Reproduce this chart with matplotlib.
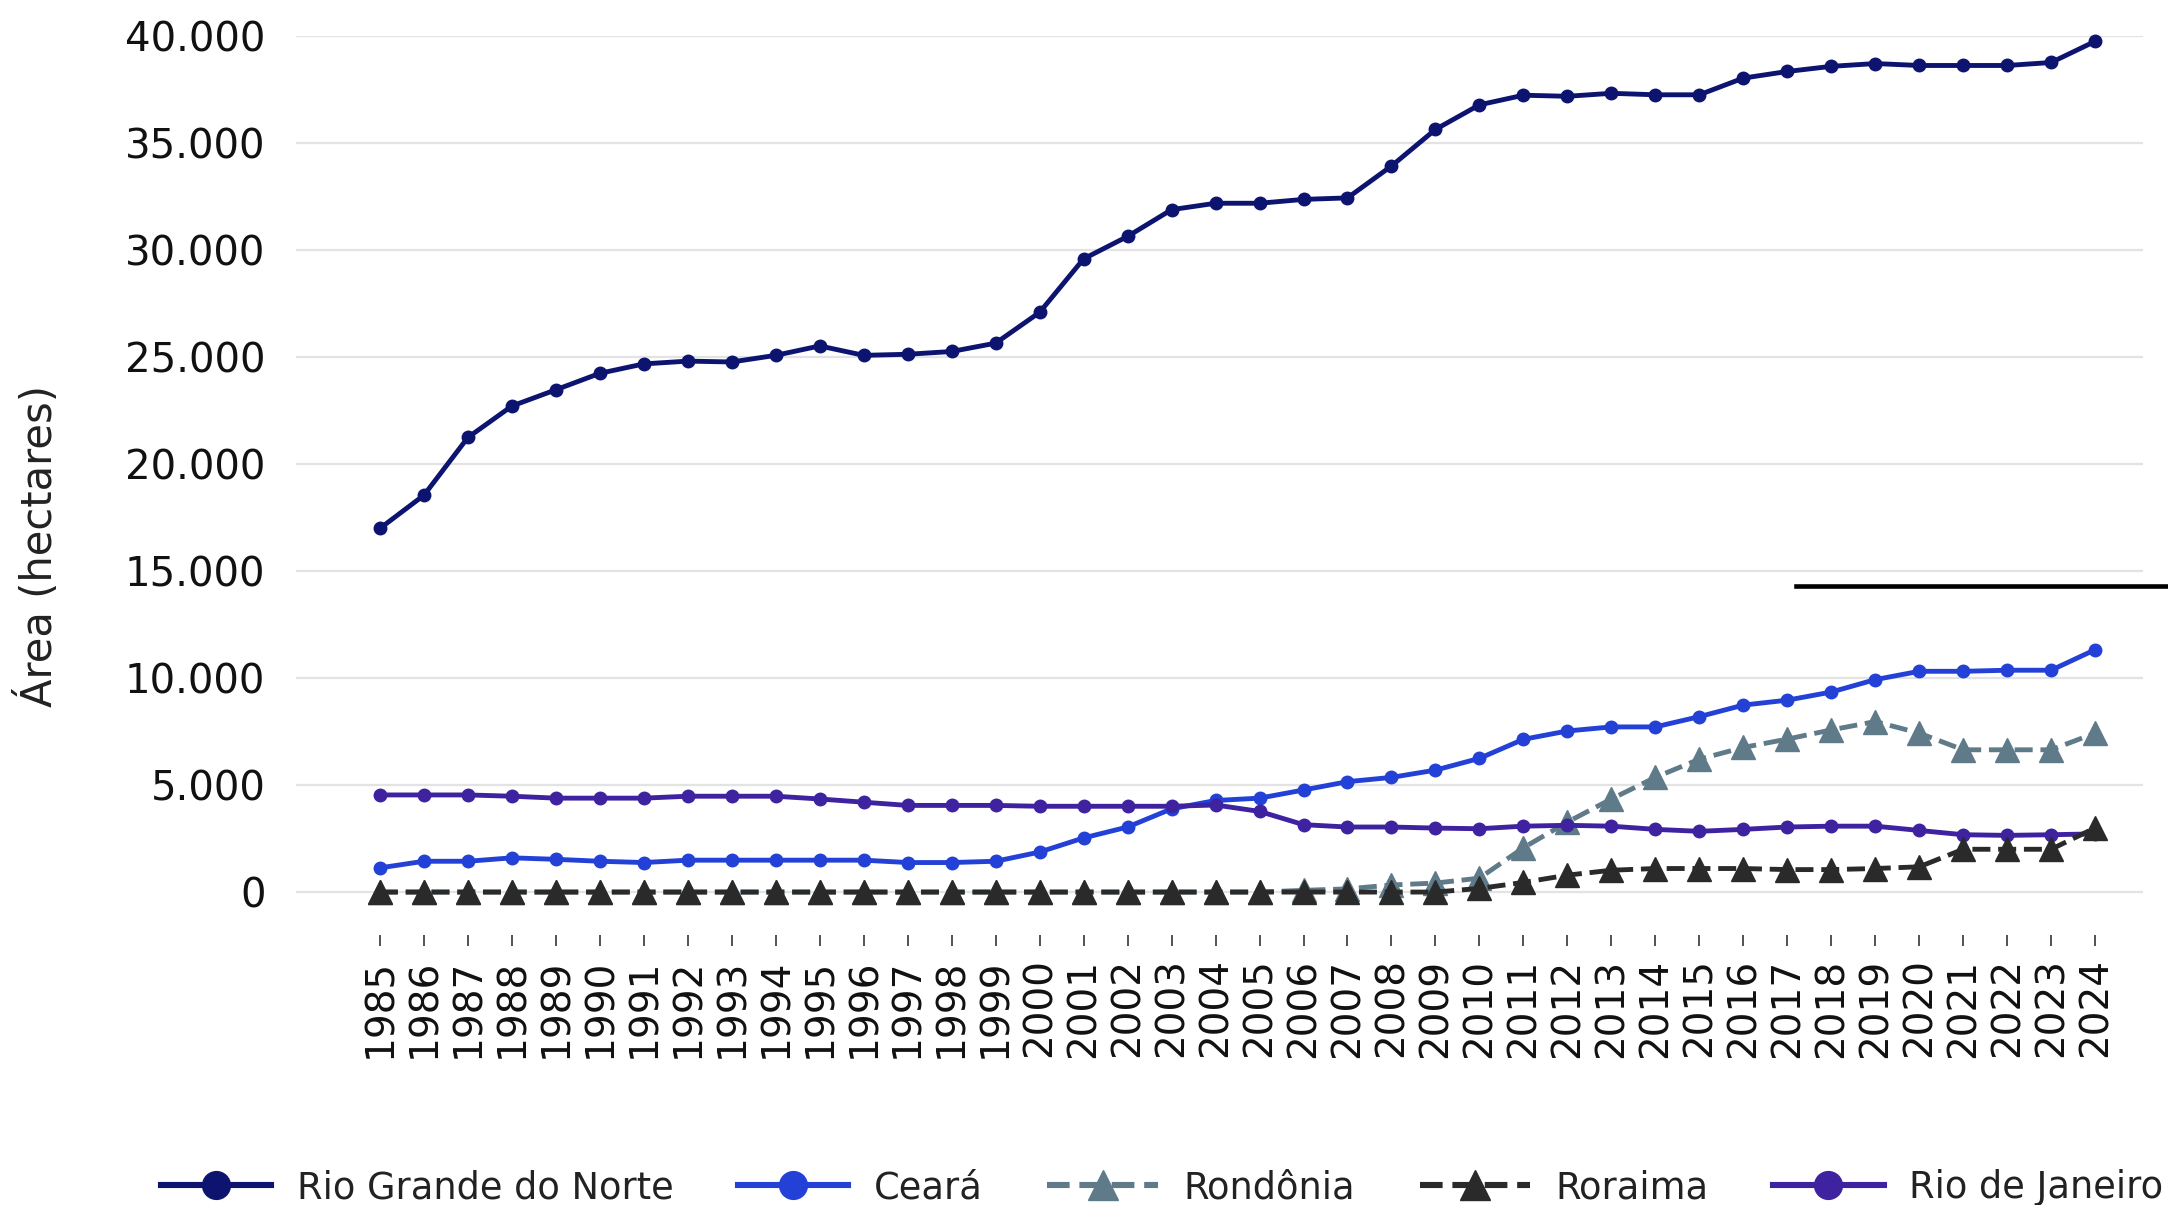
import matplotlib
matplotlib.use("Agg")
import matplotlib.pyplot as plt
from matplotlib.lines import Line2D

# --- Data (area in hectares) ---
years = list(range(1985, 2025))

rio_grande_do_norte = [
    17000, 18550, 21250, 22720, 23480, 24250, 24690, 24820, 24780, 25090,
    25530, 25090, 25140, 25270, 25660, 27100, 29600, 30650, 31900, 32200,
    32200, 32380, 32450, 33940, 35650, 36800, 37250, 37200, 37340, 37270,
    37270, 38050, 38360, 38600, 38730, 38640, 38640, 38640, 38780, 39770,
]
ceara = [
    1130, 1440, 1440, 1600, 1530, 1440, 1380, 1490, 1490, 1490,
    1490, 1490, 1380, 1380, 1440, 1870, 2530, 3040, 3890, 4280,
    4390, 4770, 5160, 5360, 5700, 6250, 7140, 7530, 7720, 7720,
    8200, 8740, 8970, 9350, 9930, 10320, 10320, 10370, 10370, 11330,
]
rondonia = [
    0, 0, 0, 0, 0, 0, 0, 0, 0, 0,
    0, 0, 0, 0, 0, 0, 0, 0, 0, 0,
    0, 80, 150, 330, 420, 650, 2070, 3270, 4350, 5360,
    6210, 6760, 7150, 7580, 7970, 7430, 6650, 6650, 6650, 7430,
]
roraima = [
    0, 0, 0, 0, 0, 0, 0, 0, 0, 0,
    0, 0, 0, 0, 0, 0, 0, 0, 0, 0,
    0, 0, 0, 0, 0, 170, 450, 790, 1020, 1100,
    1100, 1100, 1050, 1050, 1100, 1180, 2000, 2000, 2000, 3000,
]
rio_de_janeiro = [
    4540, 4540, 4540, 4480, 4390, 4390, 4390, 4480, 4480, 4480,
    4350, 4200, 4050, 4050, 4050, 4010, 4010, 4010, 4010, 4070,
    3770, 3150, 3040, 3040, 2990, 2960, 3080, 3120, 3080, 2930,
    2840, 2930, 3040, 3080, 3080, 2880, 2680, 2650, 2680, 2720,
]

y_ticks = [0, 5000, 10000, 15000, 20000, 25000, 30000, 35000, 40000]
y_tick_labels = ["0", "5.000", "10.000", "15.000", "20.000",
                 "25.000", "30.000", "35.000", "40.000"]

# --- Styling ---
C_RGN = "#0d1470"
C_CE = "#2341d6"
C_RO = "#5f7b8a"
C_RR = "#2a2a2a"
C_RJ = "#3f22a0"
LW = 3.5

plt.rcParams["font.family"] = ["DejaVu Sans"]

fig = plt.figure(figsize=(21.68, 12.05), dpi=100)
ax = fig.add_axes([0.1365, 0.2242, 0.852, 0.7456])

series = [
    ("Rio Grande do Norte", rio_grande_do_norte, C_RGN, "-", "o", 9),
    ("Ceará", ceara, C_CE, "-", "o", 9),
    ("Rondônia", rondonia, C_RO, "--", "^", 17),
    ("Roraima", roraima, C_RR, "--", "^", 17),
    ("Rio de Janeiro", rio_de_janeiro, C_RJ, "-", "o", 9),
]

z_order = {"Rio Grande do Norte": 5, "Ceará": 4, "Rondônia": 3,
           "Roraima": 6, "Rio de Janeiro": 5}
for name, vals, color, ls, mk, ms in series:
    ax.plot(years, vals, color=color, linestyle=ls, linewidth=LW,
            marker=mk, markersize=ms, clip_on=False, zorder=z_order[name])

ax.set_xlim(1983.09, 2025.09)
ax.set_ylim(-2000, 40000)
ax.set_yticks(y_ticks)
ax.set_yticklabels(y_tick_labels)
ax.set_xticks(years)
ax.set_xticklabels([str(y) for y in years], rotation=90)

ax.grid(axis="y", color="#e3e3e3", linewidth=1.6)
ax.set_axisbelow(True)
for s in ax.spines.values():
    s.set_visible(False)

ax.tick_params(axis="y", length=0, pad=22, labelsize=29, labelcolor="#111111")
ax.tick_params(axis="x", length=8, width=1.3, color="#444444", pad=9,
               labelsize=28, labelcolor="#111111")
ax.set_ylabel("Área (hectares)", fontsize=30, color="#222222")
ax.yaxis.set_label_coords(-0.127, 0.433)

handles = [
    Line2D([], [], color=c, linestyle=ls, linewidth=4.4, marker=mk,
           markersize=(20 if mk == "o" else 22))
    for _, _, c, ls, mk, _ in series
]
labels = [s[0] for s in series]
fig.legend(handles, labels, loc="center", bbox_to_anchor=(0.536, 0.0145),
           ncol=5, frameon=False, fontsize=26.5, handlelength=3.0,
           handletextpad=0.7, columnspacing=1.75, labelcolor="#222222")

# stray black rule on the right side of the original image
fig.add_artist(Line2D([0.8284, 1.0], [0.5133, 0.5133], color="black",
                      linewidth=3.3, transform=fig.transFigure))

fig.savefig("out.png", dpi=100)
